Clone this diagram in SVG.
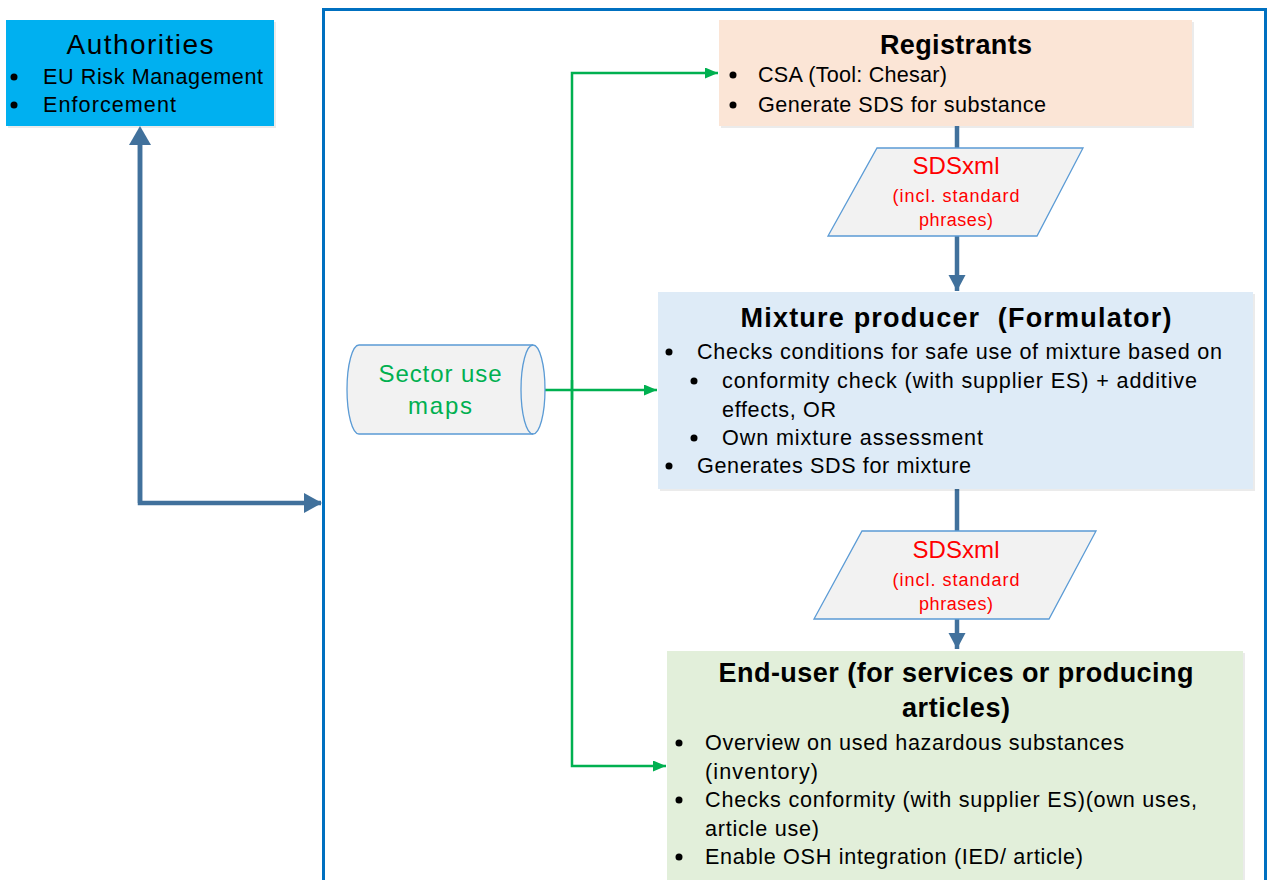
<svg xmlns="http://www.w3.org/2000/svg" width="1269" height="880" viewBox="0 0 1269 880">
<style>
.t{font-family:"Liberation Sans",Arial,sans-serif;fill:#000}
.body{font-size:21.6px}
.title{font-size:27px;font-weight:bold}
.red{font-family:"Liberation Sans",Arial,sans-serif;fill:#FF0000}
.green{font-family:"Liberation Sans",Arial,sans-serif;fill:#00B050;font-size:24px}
.conn{fill:none;stroke:#41719C;stroke-width:4.5}
.gconn{fill:none;stroke:#00B050;stroke-width:2.5}
.para{fill:#F2F2F2;stroke:#5B9BD5;stroke-width:1.3}
.shadow{fill:#000;opacity:0.08}
</style>
<defs>
<marker id="bh" markerUnits="userSpaceOnUse" markerWidth="20" markerHeight="22" refX="17" refY="10" orient="auto">
<path d="M0,0 L18,10 L0,20 Z" fill="#41719C"/>
</marker>
<marker id="bhs" markerUnits="userSpaceOnUse" markerWidth="18" markerHeight="18" refX="16" refY="8.5" orient="auto">
<path d="M0,0 L16,8.5 L0,17 Z" fill="#41719C"/>
</marker>
<marker id="gh" markerUnits="userSpaceOnUse" markerWidth="14" markerHeight="12" refX="13" refY="5.5" orient="auto">
<path d="M0,0 L13,5.5 L0,11 Z" fill="#00B050"/>
</marker>
</defs>
<rect width="1269" height="880" fill="#fff"/>

<g id="frame">
<rect x="323.5" y="9.5" width="942" height="890" fill="none" stroke="#0070C0" stroke-width="3"/>
</g>

<g id="authorities">
<rect x="8" y="22" width="268" height="106" class="shadow"/>
<rect x="6" y="20" width="268" height="106" fill="#00B0F0"/>
<text x="140" y="54" class="t" font-size="28" text-anchor="middle" textLength="147">Authorities</text>
<circle cx="14" cy="77" r="3.5"/>
<text x="43" y="84" class="t body" textLength="220">EU Risk Management</text>
<circle cx="14" cy="105" r="3.5"/>
<text x="43" y="112" class="t body" textLength="133">Enforcement</text>
</g>

<g id="registrants">
<rect x="721" y="22" width="473" height="106" class="shadow"/>
<rect x="719" y="20" width="473" height="106" fill="#FBE5D6"/>
<text x="956" y="54" class="t title" text-anchor="middle" textLength="152">Registrants</text>
<circle cx="733" cy="75" r="3.5"/>
<text x="758" y="82" class="t body" textLength="189">CSA (Tool: Chesar)</text>
<circle cx="733" cy="105" r="3.5"/>
<text x="758" y="112" class="t body" textLength="288">Generate SDS for substance</text>
</g>

<g id="connectors">
<path class="conn" d="M140,503 V140"/>
<path class="conn" d="M140,145 V503 H321" marker-end="url(#bh)"/>
<path d="M129,145 L140,126 L151,145 Z" fill="#41719C"/>
<path class="conn" d="M957,126 V150"/>
<path class="conn" d="M957,234 V291" marker-end="url(#bhs)"/>
<path class="conn" d="M957,486 V532"/>
<path class="conn" d="M957,617 V649" marker-end="url(#bhs)"/>
<path class="gconn" d="M533,390 H657" marker-end="url(#gh)"/>
<path class="gconn" d="M572,400 V73 H718" marker-end="url(#gh)"/>
<path class="gconn" d="M572,380 V766 H666" marker-end="url(#gh)"/>
</g>

<g id="sdsxml1">
<path class="para" d="M877,148 H1083 L1037,236 H828 Z"/>
<text x="956" y="174" class="red" font-size="24" text-anchor="middle" textLength="87">SDSxml</text>
<text x="956" y="202" class="red" font-size="18" text-anchor="middle" textLength="127">(incl. standard</text>
<text x="956" y="226" class="red" font-size="18" text-anchor="middle" textLength="74">phrases)</text>
</g>

<g id="mixture">
<rect x="660" y="294" width="595" height="197" class="shadow"/>
<rect x="658" y="292" width="595" height="197" fill="#DEEBF7"/>
<text x="956" y="327" class="t title" text-anchor="middle" textLength="431" xml:space="preserve">Mixture producer  (Formulator)</text>
<circle cx="669" cy="352" r="3.5"/>
<text x="697" y="359" class="t body" textLength="525">Checks conditions for safe use of mixture based on</text>
<circle cx="694" cy="381" r="3.5"/>
<text x="722" y="388" class="t body" textLength="475">conformity check (with supplier ES) + additive</text>
<text x="722" y="417" class="t body" textLength="114">effects, OR</text>
<circle cx="694" cy="438" r="3.5"/>
<text x="722" y="445" class="t body" textLength="261">Own mixture assessment</text>
<circle cx="669" cy="466" r="3.5"/>
<text x="697" y="473" class="t body" textLength="274">Generates SDS for mixture</text>
</g>

<g id="sdsxml2">
<path class="para" d="M862,531 H1096 L1049,619 H814 Z"/>
<text x="956" y="558" class="red" font-size="24" text-anchor="middle" textLength="87">SDSxml</text>
<text x="956" y="586" class="red" font-size="18" text-anchor="middle" textLength="127">(incl. standard</text>
<text x="956" y="610" class="red" font-size="18" text-anchor="middle" textLength="74">phrases)</text>
</g>

<g id="sector-use-maps">
<path d="M359,345 H533 A12,44.5 0 0 1 533,434 H359 A12,44.5 0 0 1 359,345 Z" fill="#F2F2F2" stroke="#5B9BD5" stroke-width="1.3"/>
<path d="M533,345 A12,44.5 0 0 0 533,434" fill="none" stroke="#5B9BD5" stroke-width="1.3"/>
<text x="440" y="382" class="green" text-anchor="middle" textLength="123">Sector use</text>
<text x="440" y="414" class="green" text-anchor="middle" textLength="64">maps</text>
</g>

<g id="end-user">
<rect x="669" y="653" width="576" height="240" class="shadow"/>
<rect x="667" y="651" width="576" height="240" fill="#E2EFDA"/>
<text x="956" y="682" class="t title" text-anchor="middle" textLength="475">End-user (for services or producing</text>
<text x="956" y="717" class="t title" text-anchor="middle" textLength="108">articles)</text>
<circle cx="679" cy="743" r="3.5"/>
<text x="705" y="750" class="t body" textLength="419">Overview on used hazardous substances</text>
<text x="705" y="779" class="t body" textLength="113">(inventory)</text>
<circle cx="679" cy="800" r="3.5"/>
<text x="705" y="807" class="t body" textLength="492">Checks conformity (with supplier ES)(own uses,</text>
<text x="705" y="836" class="t body" textLength="114">article use)</text>
<circle cx="679" cy="857" r="3.5"/>
<text x="705" y="864" class="t body" textLength="378">Enable OSH integration (IED/ article)</text>
</g>
</svg>
